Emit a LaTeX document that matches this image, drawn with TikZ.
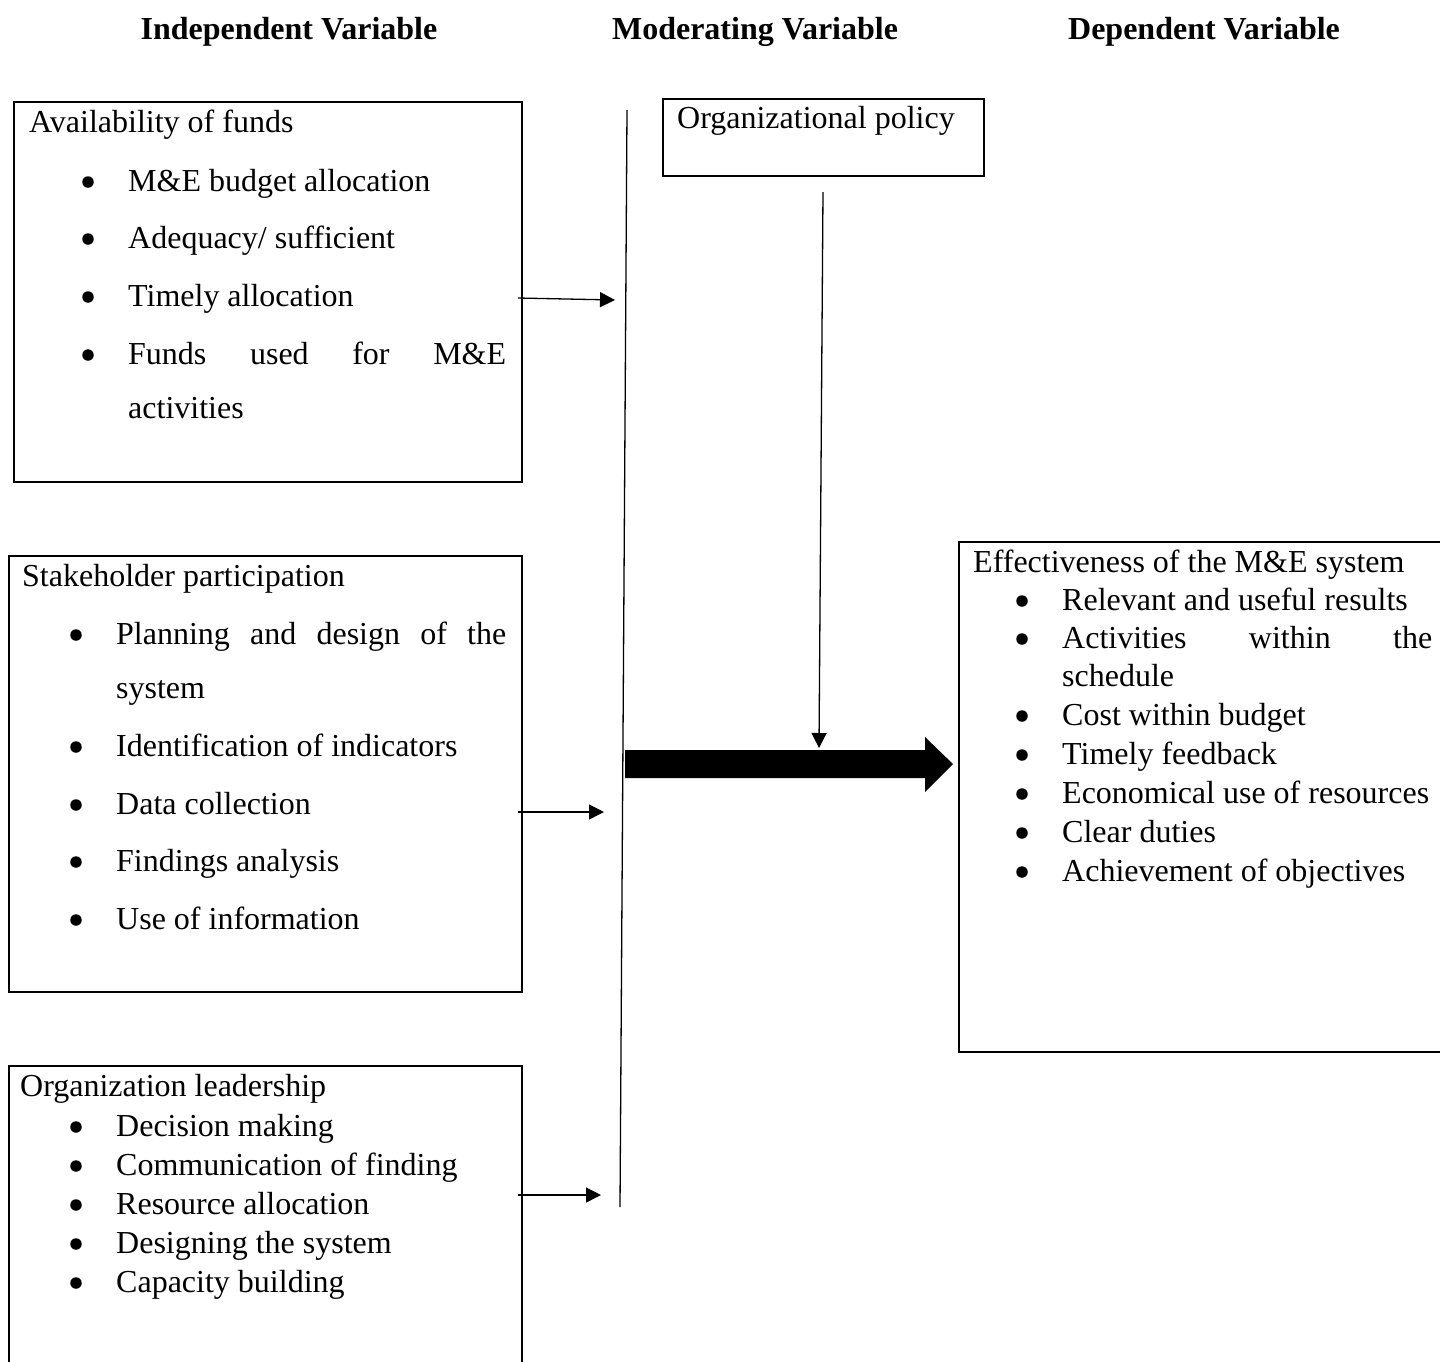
\documentclass[tikz,border=0pt]{standalone}
\usepackage{fontspec}
\setmainfont{Liberation Serif}
\usetikzlibrary{arrows.meta}
\newcommand\myitem[4]{\node[bul] (#1d) at ({#2-40},{#3-9}) {}; \node[txt] (#1) at (#2,#3) {#4};}
\begin{document}
\begin{tikzpicture}[x=1pt,y=-1pt,
  frame/.style={draw,line width=2pt,anchor=north west,inner sep=0pt},
  txt/.style={anchor=base west,inner sep=0pt,font=\fontsize{32}{38}\selectfont},
  head/.style={anchor=base,inner sep=0pt,font=\fontsize{32}{38}\selectfont\bfseries},
  bul/.style={circle,fill,inner sep=0pt,minimum size=11.5pt},
  thin/.style={line width=1.3pt,-{Triangle[length=15pt,width=15pt]}},
]
\useasboundingbox (0,0) rectangle (1440,1361);
\fill[white] (0,0) rectangle (1440,1361);

% headings
\node[head] (h1) at (289,39) {Independent Variable};
\node[head] (h2) at (755,39) {Moderating Variable};
\node[head] (h3) at (1204,39) {Dependent Variable};

% box 1
\node[frame,minimum width=508pt,minimum height=380pt] (b1) at (13,101) {};
\node[txt] (b1t) at (29,132) {Availability of funds};
\myitem{b1a}{128}{191}{M\&E budget allocation}
\myitem{b1b}{128}{248}{Adequacy/ sufficient}
\myitem{b1c}{128}{306}{Timely allocation}
\myitem{b1e}{128}{364}{\makebox[378pt][l]{Funds\hfill used\hfill for\hfill M\&E}}
\node[txt] (b1f) at (128,418) {activities};

% box 2
\node[frame,minimum width=513pt,minimum height=436pt] (b2) at (8,555) {};
\node[txt] (b2t) at (22,586) {Stakeholder participation};
\myitem{b2a}{116}{644}{\makebox[390pt][l]{Planning\hfill and\hfill design\hfill of\hfill the}}
\node[txt] (b2b) at (116,698) {system};
\myitem{b2c}{116}{756}{Identification of indicators}
\myitem{b2d}{116}{814}{Data collection}
\myitem{b2e}{116}{871}{Findings analysis}
\myitem{b2f}{116}{929}{Use of information}

% box 3
\node[frame,minimum width=513pt,minimum height=310pt] (b3) at (8,1065) {};
\node[txt] (b3t) at (20,1096) {Organization leadership};
\myitem{b3a}{116}{1136}{Decision making}
\myitem{b3b}{116}{1175}{Communication of finding}
\myitem{b3c}{116}{1214}{Resource allocation}
\myitem{b3d}{116}{1253}{Designing the system}
\myitem{b3e}{116}{1292}{Capacity building}

% moderating box
\node[frame,minimum width=321pt,minimum height=77pt] (op) at (662,98) {};
\node[txt] (opt) at (677,128) {Organizational policy};

% dependent box
\node[frame,minimum width=500pt,minimum height=510pt] (b4) at (958,541) {};
\node[txt] (b4t) at (973,572) {Effectiveness of the M\&E system};
\myitem{b4a}{1062}{610}{Relevant and useful results}
\myitem{b4b}{1062}{648}{\makebox[370pt][l]{Activities\hfill within\hfill the}}
\node[txt] (b4c) at (1062,686) {schedule};
\myitem{b4d}{1062}{725}{Cost within budget}
\myitem{b4e}{1062}{764}{Timely feedback}
\myitem{b4f}{1062}{803}{Economical use of resources}
\myitem{b4g}{1062}{842}{Clear duties}
\myitem{b4h}{1062}{881}{Achievement of objectives}

% vertical line
\coordinate (vt) at (627,110);
\coordinate (vb) at (620,1207);
\draw[line width=1.3pt] (vt) -- (vb);

% arrows to line
\coordinate (a1s) at (518,298); \coordinate (a1e) at (615,300);
\coordinate (a2s) at (518,812); \coordinate (a2e) at (604,812);
\coordinate (a3s) at (518,1195); \coordinate (a3e) at (601,1195);
\draw[thin] (a1s) -- (a1e);
\draw[thin] (a2s) -- (a2e);
\draw[thin] (a3s) -- (a3e);

% policy arrow
\coordinate (ps) at (823,192); \coordinate (pe) at (819,748);
\draw[thin] (ps) -- (pe);

% thick arrow
\fill (625,750) -- (925,750) -- (925,737) -- (953,764) -- (925,792) -- (925,778) -- (625,778) -- cycle;
\end{tikzpicture}
\end{document}
